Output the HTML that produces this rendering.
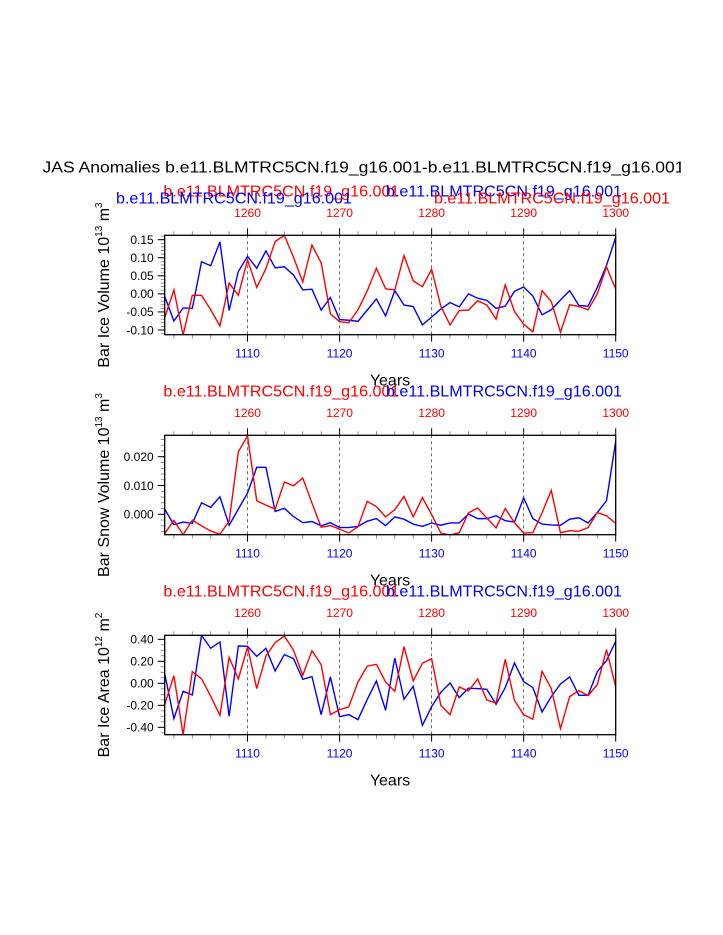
<!DOCTYPE html>
<html><head><meta charset="utf-8"><style>
html,body{margin:0;padding:0;background:#fff;}
svg{display:block;font-family:"Liberation Sans",sans-serif;}
</style></head><body>
<svg id="chart" width="723" height="935" viewBox="0 0 723 935" xmlns="http://www.w3.org/2000/svg">
<clipPath id="titleclip"><rect x="0" y="140" width="681" height="50"/></clipPath>
<text x="42.5" y="172.5" font-size="16" textLength="642" lengthAdjust="spacingAndGlyphs" clip-path="url(#titleclip)">JAS Anomalies b.e11.BLMTRC5CN.f19_g16.001-b.e11.BLMTRC5CN.f19_g16.001</text>
</svg>
<script>
const years = [];
for (let y = 1101; y <= 1150; y++) years.push(y);
const topYearOffset = 150;
const bottomTickLabels = [1110, 1120, 1130, 1140, 1150];
const topTickLabels = [1260, 1270, 1280, 1290, 1300];

const iceVolBlue = [-0.007,-0.075,-0.039,-0.040,0.089,0.078,0.144,-0.046,0.062,0.104,0.071,0.119,0.072,0.075,0.052,0.011,0.013,-0.045,-0.010,-0.071,-0.073,-0.076,-0.045,-0.014,-0.061,0.009,-0.031,-0.035,-0.086,-0.064,-0.042,-0.024,-0.036,0.000,-0.012,-0.018,-0.040,-0.034,0.007,0.019,-0.006,-0.058,-0.044,-0.017,0.009,-0.032,-0.034,0.018,0.079,0.156];
const iceVolRed = [-0.066,0.011,-0.114,-0.004,-0.004,-0.044,-0.089,0.030,-0.004,0.094,0.018,0.070,0.145,0.162,0.101,0.033,0.135,0.086,-0.055,-0.077,-0.080,-0.044,0.008,0.071,0.014,0.011,0.106,0.036,0.020,0.068,-0.034,-0.086,-0.046,-0.045,-0.019,-0.031,-0.070,0.025,-0.049,-0.084,-0.105,0.009,-0.021,-0.106,-0.030,-0.035,-0.044,0.000,0.075,0.013];
const snowVolBlue = [0.0018,-0.0036,-0.0027,-0.0032,0.0040,0.0024,0.0061,-0.0038,0.0018,0.0074,0.0163,0.0163,0.0010,0.0021,-0.0008,-0.0029,-0.0025,-0.0040,-0.0029,-0.0046,-0.0046,-0.0042,-0.0024,-0.0015,-0.0039,-0.0009,-0.0017,-0.0034,-0.0042,-0.0030,-0.0038,-0.0030,-0.0030,0.0001,-0.0015,-0.0015,-0.0005,-0.0022,-0.0027,0.0057,-0.0015,-0.0034,-0.0037,-0.0038,-0.0017,-0.0012,-0.0030,0.0006,0.0047,0.0253];
const snowVolRed = [-0.0067,-0.0021,-0.0071,-0.0020,-0.0040,-0.0058,-0.0069,-0.0024,0.0217,0.0272,0.0047,0.0032,0.0018,0.0112,0.0099,0.0126,0.0039,-0.0045,-0.0039,-0.0052,-0.0065,-0.0043,0.0045,0.0027,-0.0009,0.0016,0.0062,-0.0009,0.0058,-0.0001,-0.0065,-0.0072,-0.0064,0.0005,0.0022,-0.0013,-0.0047,0.0020,-0.0029,-0.0065,-0.0064,0.0005,0.0083,-0.0064,-0.0057,-0.0059,-0.0046,0.0006,-0.0005,-0.0032];
const iceAreaBlue = [0.088,-0.321,-0.073,-0.106,0.436,0.318,0.376,-0.300,0.339,0.336,0.245,0.318,0.112,0.261,0.224,0.036,0.061,-0.285,0.058,-0.303,-0.285,-0.330,-0.148,0.021,-0.245,0.230,-0.145,-0.027,-0.382,-0.212,-0.082,0.003,-0.130,-0.045,-0.048,-0.055,-0.191,-0.039,0.185,0.015,-0.039,-0.261,-0.121,-0.006,0.058,-0.109,-0.109,0.106,0.206,0.382];
const iceAreaRed = [-0.194,0.070,-0.467,0.106,0.042,-0.118,-0.291,0.236,0.039,0.330,-0.048,0.248,0.370,0.430,0.300,0.073,0.297,0.170,-0.285,-0.239,-0.215,0.012,0.155,0.173,0.012,-0.073,0.333,0.021,0.182,0.224,-0.200,-0.285,-0.033,-0.070,0.039,-0.152,-0.179,0.218,-0.155,-0.285,-0.327,0.109,-0.048,-0.412,-0.121,-0.067,-0.112,-0.012,0.306,-0.030];

const ticks1 = [0.15,0.10,0.05,0.00,-0.05,-0.10];
const ticks1Labels = ["0.15","0.10","0.05","0.00","-0.05","-0.10"];
const ticks2 = [0.02,0.01,0.0];
const ticks2Labels = ["0.020","0.010","0.000"];
const ticks3 = [0.4,0.2,0.0,-0.2,-0.4];
const ticks3Labels = ["0.40","0.20","0.00","-0.20","-0.40"];

const NS = "http://www.w3.org/2000/svg";
const svg = document.getElementById('chart');
const X0 = 164.7, X1 = 615.7;
function xScale(yr){ return X0 + (yr - 1101) * (X1 - X0) / 49; }
function mk(tag, attrs, parent){
  const e = document.createElementNS(NS, tag);
  for (const k in attrs) e.setAttribute(k, attrs[k]);
  (parent || svg).appendChild(e);
  return e;
}

const panels = [
  {top:235.3, bot:334.7, v0:0.15, p0:239.7, v1:-0.10, p1:330.0, blue:iceVolBlue, red:iceVolRed, ticks:ticks1, labels:ticks1Labels, minor:0.01, title:["Bar Ice Volume 10","13"," m","3"], name:"ice-volume", both:true},
  {top:435.3, bot:534.7, v0:0.02, p0:456.7, v1:0.0, p1:514.3, blue:snowVolBlue, red:snowVolRed, ticks:ticks2, labels:ticks2Labels, minor:0.002, title:["Bar Snow Volume 10","13"," m","3"], name:"snow-volume", both:false},
  {top:635.3, bot:734.7, v0:0.4, p0:639.3, v1:-0.4, p1:727.3, blue:iceAreaBlue, red:iceAreaRed, ticks:ticks3, labels:ticks3Labels, minor:0.05, title:["Bar Ice Area 10","12"," m","2"], name:"ice-area", both:false}
];

panels.forEach((p, pi) => {
  const g = mk('g', {});
  
  
  const yScale = v => p.p0 + (v - p.v0) * (p.p1 - p.p0) / (p.v1 - p.v0);
  const cid = 'clip' + pi;
  const cp = mk('clipPath', {id: cid}, g);
  mk('rect', {x: X0, y: p.top, width: X1 - X0, height: p.bot - p.top}, cp);

  [1110,1120,1130,1140].forEach(yr => {
    const l = mk('line', {x1: xScale(yr), x2: xScale(yr), y1: p.top, y2: p.bot, stroke:'#333', 'stroke-width':0.7, 'stroke-dasharray':'3,3'}, g);
    
    
  });

  for (let yr = 1102; yr <= 1150; yr += 2) {
    const major = (yr % 10 === 0);
    const len = major ? 7 : 4;
    const col = major ? '#000' : '#777';
    mk('line', {x1: xScale(yr), x2: xScale(yr), y1: p.bot, y2: p.bot + len, stroke: col, 'stroke-width': major ? 1 : 0.8}, g);
    mk('line', {x1: xScale(yr), x2: xScale(yr), y1: p.top, y2: p.top - len, stroke: col, 'stroke-width': major ? 1 : 0.8}, g);
  }
  bottomTickLabels.forEach(yr => {
    const t = mk('text', {x: xScale(yr), y: p.bot + 23, 'font-size': 12, fill: '#0000ff', 'text-anchor': 'middle'}, g);
    t.textContent = yr;
    
    
  });
  topTickLabels.forEach(yr => {
    const t = mk('text', {x: xScale(yr - topYearOffset), y: p.top - 18.5, 'font-size': 12, fill: '#ff0000', 'text-anchor': 'middle'}, g);
    t.textContent = yr;
    
    
  });

  for (let k = -200; k <= 200; k++) {
    const v = k * p.minor;
    const py = yScale(v);
    if (py < p.top - 0.5 || py > p.bot + 0.5) continue;
    mk('line', {x1: X0 - 4, x2: X0, y1: py, y2: py, stroke:'#777', 'stroke-width':0.8}, g);
  }
  p.ticks.forEach((v, i) => {
    const py = yScale(v);
    mk('line', {x1: X0 - 7, x2: X0, y1: py, y2: py, stroke:'#000', 'stroke-width':1}, g);
    const t = mk('text', {x: X0 - 11, y: py + 4.3, 'font-size': 12, 'text-anchor': 'end'}, g);
    t.textContent = p.labels[i];
    
    
  });

  const mkPts = arr => arr.map((v, i) => xScale(years[i]).toFixed(2) + ',' + yScale(v).toFixed(2)).join(' ');
  const lb = mk('polyline', {points: mkPts(p.blue), fill:'none', stroke:'#0000ff', 'stroke-width':1.4, 'clip-path':'url(#'+cid+')'}, g);
  
  
  const lr = mk('polyline', {points: mkPts(p.red), fill:'none', stroke:'#ff0000', 'stroke-width':1.4, 'clip-path':'url(#'+cid+')'}, g);
  
  

  const fr = mk('rect', {x: X0, y: p.top, width: X1 - X0, height: p.bot - p.top, fill:'none', stroke:'#000', 'stroke-width':1.3}, g);
  
  

  const sub = (txt, x, y, col, nm) => {
    const t = mk('text', {x: x, y: y, 'font-size': 16, fill: col, textLength: 236, lengthAdjust: 'spacingAndGlyphs'}, g);
    t.textContent = txt;
    
    
  };
  const base = p.top - 38.6;
  const caseName = 'b.e11.BLMTRC5CN.f19_g16.001';
  sub(caseName, 163.4, base, '#ff0000', 'left-subtitle-red');
  sub(caseName, 386, base, '#0000ff', 'right-subtitle-blue');
  if (p.both) {
    sub(caseName, 116, base + 6.6, '#0000ff', 'left-subtitle-blue');
    sub(caseName, 434, base + 6.6, '#ff0000', 'right-subtitle-red');
  }

  const xt = mk('text', {x: 390, y: p.bot + 51, 'font-size': 16, 'text-anchor': 'middle'}, g);
  xt.textContent = 'Years';
  
  

  const cy = (p.top + p.bot) / 2;
  const yt = mk('text', {x: 0, y: 0, 'font-size': 16, 'text-anchor': 'middle', transform: 'translate(109,' + cy + ') rotate(-90)'}, g);
  
  
  const parts = p.title;
  const s1 = mk('tspan', {}, yt); s1.textContent = parts[0];
  const s2 = mk('tspan', {dy: -7, 'font-size': 10}, yt); s2.textContent = parts[1];
  const s3 = mk('tspan', {dy: 7}, yt); s3.textContent = parts[2];
  const s4 = mk('tspan', {dy: -7, 'font-size': 10}, yt); s4.textContent = parts[3];
});
</script>
</body></html>
